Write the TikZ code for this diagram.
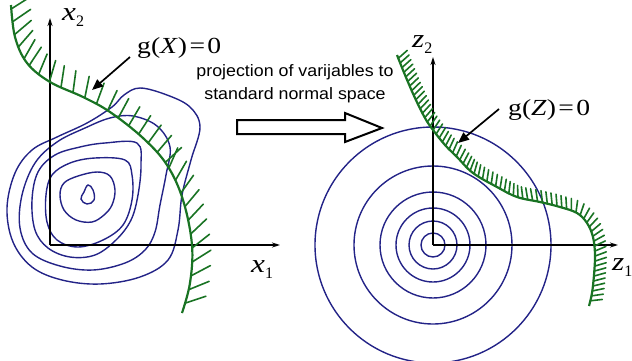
\documentclass[tikz,border=0pt]{standalone}
\usepackage{fontspec}
\setmainfont{Liberation Serif}
\newfontfamily\labsans{Liberation Sans}
\usetikzlibrary{arrows.meta,decorations.markings,calc}
\definecolor{hatchgreen}{RGB}{25,115,35}
\definecolor{contourblue}{RGB}{35,35,135}
\newcommand{\hatchtick}[2]{\draw[hatchL] (0pt,0pt) -- ($(0pt,0pt)+(#1:#2)$);}
\tikzset{
  axisline/.style={line width=1.6pt,black,-{Stealth[length=8pt,width=5pt]}},
  pointer/.style={line width=1.7pt,black,-{Triangle[length=11pt,width=9pt]}},
  contour/.style={contourblue,line width=1.4pt},
  hatchL/.style={hatchgreen,line width=1.6pt,line cap=round},
  limitL/.style={hatchgreen,line width=2.2pt,
    postaction={decorate,decoration={markings,
      mark=between positions 0.01 and 0.15 step 13pt with {\hatchtick{118}{22pt}},
      mark=between positions 0.165 and 0.35 step 13pt with {\hatchtick{105}{22pt}},
      mark=between positions 0.365 and 0.6 step 13pt with {\hatchtick{98}{22pt}},
      mark=between positions 0.615 and 0.995 step 14pt with {\hatchtick{125}{22pt}}}}},
  limitR/.style={hatchgreen,line width=2.2pt,
    postaction={decorate,decoration={markings,
      mark=between positions 0.01 and 0.995 step 5pt with {\hatchtick{110}{12pt}}}}},
  varlabel/.style={inner sep=0pt,anchor=base west,font=\fontsize{26}{26}\selectfont},
  glabel/.style={inner sep=0pt,anchor=base west,font=\fontsize{23}{23}\selectfont},
  caption/.style={inner sep=0pt,align=center,font=\labsans\fontsize{16.5}{23}\selectfont},
  hollow/.style={line width=2pt,black,fill=white,line join=miter}
}
\newcommand{\wideit}[1]{\scalebox{1.2}[1]{#1}}
\begin{document}
\begin{tikzpicture}[x=1pt,y=-1pt]
\useasboundingbox (0,0) rectangle (632,360);
\clip (0,0) rectangle (632,360);
% ---------------- left: original space ----------------
\draw[contour] plot[smooth cycle,tension=0.6] coordinates {(140,88) (167,95) (190,107) (200,127) (191,160) (182,195) (178,230) (168,260) (140,277) (100,284) (62,280) (32,267) (13,242) (7,208) (15,173) (32,150) (57,137) (87,123) (112,107) (124,95)};
\draw[contour] plot[smooth cycle,tension=0.6] coordinates {(133,116) (157,126) (170,147) (166,175) (160,205) (155,232) (145,250) (125,263) (93,270) (60,266) (32,253) (20,228) (22,195) (35,163) (57,142) (85,128) (110,118)};
\draw[contour] plot[smooth cycle,tension=0.6] coordinates {(137,143) (141,165) (138,195) (131,220) (116,240) (95,255) (70,257) (48,248) (35,230) (32,200) (38,172) (55,155) (80,147) (105,143)};
\draw[contour] plot[smooth cycle,tension=0.6] coordinates {(125,160) (132,175) (132,200) (123,225) (103,240) (78,247) (57,240) (47,222) (46,195) (52,175) (70,163) (95,158)};
\draw[contour] plot[smooth cycle,tension=0.6] coordinates {(97,172) (110,176) (115,190) (112,205) (104,215) (92,222) (76,220) (64,210) (60,195) (64,183) (78,176)};
\draw[contour] plot[smooth cycle,tension=0.7] coordinates {(88,185) (93,190) (94,200) (87,204) (81,199) (84,192)};
\coordinate (O1) at (50,245);
\coordinate (X1end) at (280,245);
\coordinate (X2end) at (50,18);
\draw[axisline] (O1) -- (X1end);
\draw[axisline] (O1) -- (X2end);
\draw[limitL] plot[smooth,tension=0.6] coordinates {(11,5) (15,37) (27,63) (50,82) (83,97) (110,112) (143,138) (167,165) (183,200) (192,245) (190,283) (182,313)};
\node[varlabel] (x2lab) at (62,20) {\wideit{\itshape x}\raisebox{-6pt}{\fontsize{16}{16}\selectfont 2}};
\node[varlabel] (x1lab) at (251,272) {\wideit{\itshape x}\raisebox{-6pt}{\fontsize{16}{16}\selectfont 1}};
\node[glabel] (gX) at (137,53) {\wideit{g(\textit{X})\hspace{2pt}=\hspace{2pt}0}};
\coordinate (gXtip) at (92,90);
\draw[pointer] (130,57) -- (gXtip);
% ---------------- middle: caption and hollow arrow ----------------
\node[caption] (cap) at (295,84) {\scalebox{1.08}[1]{projection of varijables to}\\\scalebox{1.08}[1]{standard normal space}};
\draw[hollow] (237,120) -- (345,120) -- (345,113) -- (382,128) -- (345,142) -- (345,134) -- (237,134) -- cycle;
% ---------------- right: standard normal space ----------------
\coordinate (O2) at (433,245);
\foreach \r in {12,24,37,53,79,118} \draw[contour] (O2) circle[radius=\r];
\coordinate (Z1end) at (618,245);
\coordinate (Z2end) at (433,57);
\draw[axisline] (O2) -- (Z1end);
\draw[axisline] (O2) -- (Z2end);
\draw[limitR] plot[smooth,tension=0.6] coordinates {(397,55) (405,75) (415,98) (425,118) (433,130) (445,145) (457,157) (473,173) (497,187) (517,197) (540,202) (560,207) (577,213) (587,223) (593,237) (595,255) (594,275) (592,293) (589,306)};
\node[varlabel] (z2lab) at (412,47) {\wideit{\itshape z}\raisebox{-6pt}{\fontsize{16}{16}\selectfont 2}};
\node[varlabel] (z1lab) at (612,270) {\wideit{\itshape z}\raisebox{-6pt}{\fontsize{16}{16}\selectfont 1}};
\node[glabel] (gZ) at (508,115) {\wideit{g(\textit{Z})\hspace{2pt}=\hspace{2pt}0}};
\coordinate (gZtip) at (458,143);
\draw[pointer] (499,109) -- (gZtip);
\end{tikzpicture}
\end{document}
